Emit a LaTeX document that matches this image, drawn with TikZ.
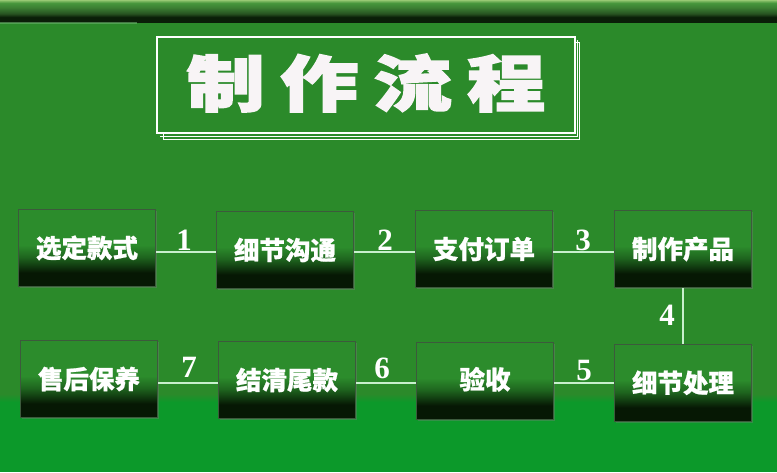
\documentclass[tikz,border=0pt]{standalone}
\usepackage{fontspec}
\usetikzlibrary{shadows}
\newfontfamily\cjk{Noto Sans CJK SC}[BoldFeatures={FakeBold=0.8}]
\newfontfamily\cjktitle{Noto Sans CJK SC}[BoldFeatures={FakeBold=2.5}]
\newfontfamily\numfont{Liberation Serif}
\definecolor{bg}{RGB}{43,138,42}
\definecolor{bgbot}{RGB}{12,153,42}
\definecolor{boxtop}{RGB}{44,140,44}
\definecolor{boxmid}{RGB}{30,100,30}
\definecolor{boxdk}{RGB}{6,24,4}
\definecolor{boxedge}{RGB}{60,90,60}
\definecolor{connc}{RGB}{200,240,205}
\definecolor{titlec}{RGB}{248,244,246}
\definecolor{bartop}{RGB}{150,200,115}
\definecolor{barmid}{RGB}{70,150,60}
\definecolor{bardk}{RGB}{10,30,8}
\pgfdeclareverticalshading{boxshade}{100bp}{color(0bp)=(boxdk); color(25bp)=(boxdk); color(34bp)=(boxdk); color(44bp)=(boxmid); color(52bp)=(boxtop); color(75bp)=(boxtop); color(100bp)=(boxtop)}
\pgfdeclareverticalshading{barshade}{100bp}{color(0bp)=(bardk); color(25bp)=(bardk); color(36bp)=(bardk); color(44bp)=(barmid!55!black); color(58bp)=(barmid!85!black); color(68bp)=(barmid); color(72bp)=(barmid!50!bartop); color(75bp)=(bartop); color(100bp)=(bartop)}
\tikzset{
  stepbox/.style={minimum width=137pt, minimum height=77pt, inner sep=0pt,
    shading=boxshade, draw=boxedge, line width=1pt,
    drop shadow={opacity=0.35, shadow xshift=1pt, shadow yshift=-1.5pt},
    text=white, font=\cjk\bfseries\fontsize{25.5}{25.5}\selectfont},
  num/.style={text=white, inner sep=0pt, font=\numfont\bfseries\fontsize{31}{31}\selectfont},
  conn/.style={draw=connc, line width=1.6pt}
}
\begin{document}
\begin{tikzpicture}[x=1pt,y=-1pt]
\useasboundingbox (0,0) rectangle (777,472);
% background
\fill[bg] (0,0) rectangle (777,472);
\shade[top color=bg, bottom color=bgbot] (0,394) rectangle (777,402);
\fill[bgbot] (0,402) rectangle (777,472);
% top bar
\shade[shading=barshade] (0,0) rectangle (777,22);
\fill[bg!60!connc, opacity=0.6] (0,22) rectangle (137,23.5);
% title
\draw[white, line width=1pt] (163,133) -- (163,139) -- (579,139) -- (579,42) -- (575,42);
\draw[white, line width=0.8pt] (160,136) -- (577,136) -- (577,40);
\node[draw=white, line width=1.3pt, minimum width=418pt, minimum height=96pt, inner sep=0pt] (titlebox) at (366,85) {};
\node[text=titlec, inner sep=0pt, xscale=1.28, font=\cjktitle\bfseries\fontsize{61}{61}\selectfont] (title) at (366,83)
  {制\hspace{12pt}作\hspace{12pt}流\hspace{12pt}程};
% boxes row 1
\node[stepbox] (b1) at (87,248) {选定款式};
\node[stepbox] (b2) at (285,250) {细节沟通};
\node[stepbox] (b3) at (484,249) {支付订单};
\node[stepbox] (b4) at (683,249) {制作产品};
% boxes row 2
\node[stepbox] (b5) at (89,379) {售后保养};
\node[stepbox] (b6) at (287,380) {结清尾款};
\node[stepbox] (b7) at (485,381) {\raisebox{6pt}{验收}\hspace{8pt}};
\node[stepbox] (b8) at (683,383) {\raisebox{3pt}{细节处理}};
% connectors
\draw[conn] ([yshift=-4pt]b1.east) -- ([yshift=-2pt]b2.west);
\draw[conn] ([yshift=-2pt]b2.east) -- ([yshift=-3pt]b3.west);
\draw[conn] ([yshift=-3pt]b3.east) -- ([yshift=-3pt]b4.west);
\draw[conn] (b4.south) -- (b8.north);
\draw[conn] ([yshift=0pt]b8.west) -- ([yshift=-2pt]b7.east);
\draw[conn] ([yshift=-2pt]b7.west) -- ([yshift=-3pt]b6.east);
\draw[conn] ([yshift=-3pt]b6.west) -- ([yshift=-4pt]b5.east);
% labels
\node[num] (n1) at (184,240) {1};
\node[num] (n2) at (385,240) {2};
\node[num] (n3) at (583,240) {3};
\node[num] (n4) at (667,315) {4};
\node[num] (n5) at (584,370) {5};
\node[num] (n6) at (382,368) {6};
\node[num] (n7) at (189,367) {7};
\end{tikzpicture}
\end{document}
